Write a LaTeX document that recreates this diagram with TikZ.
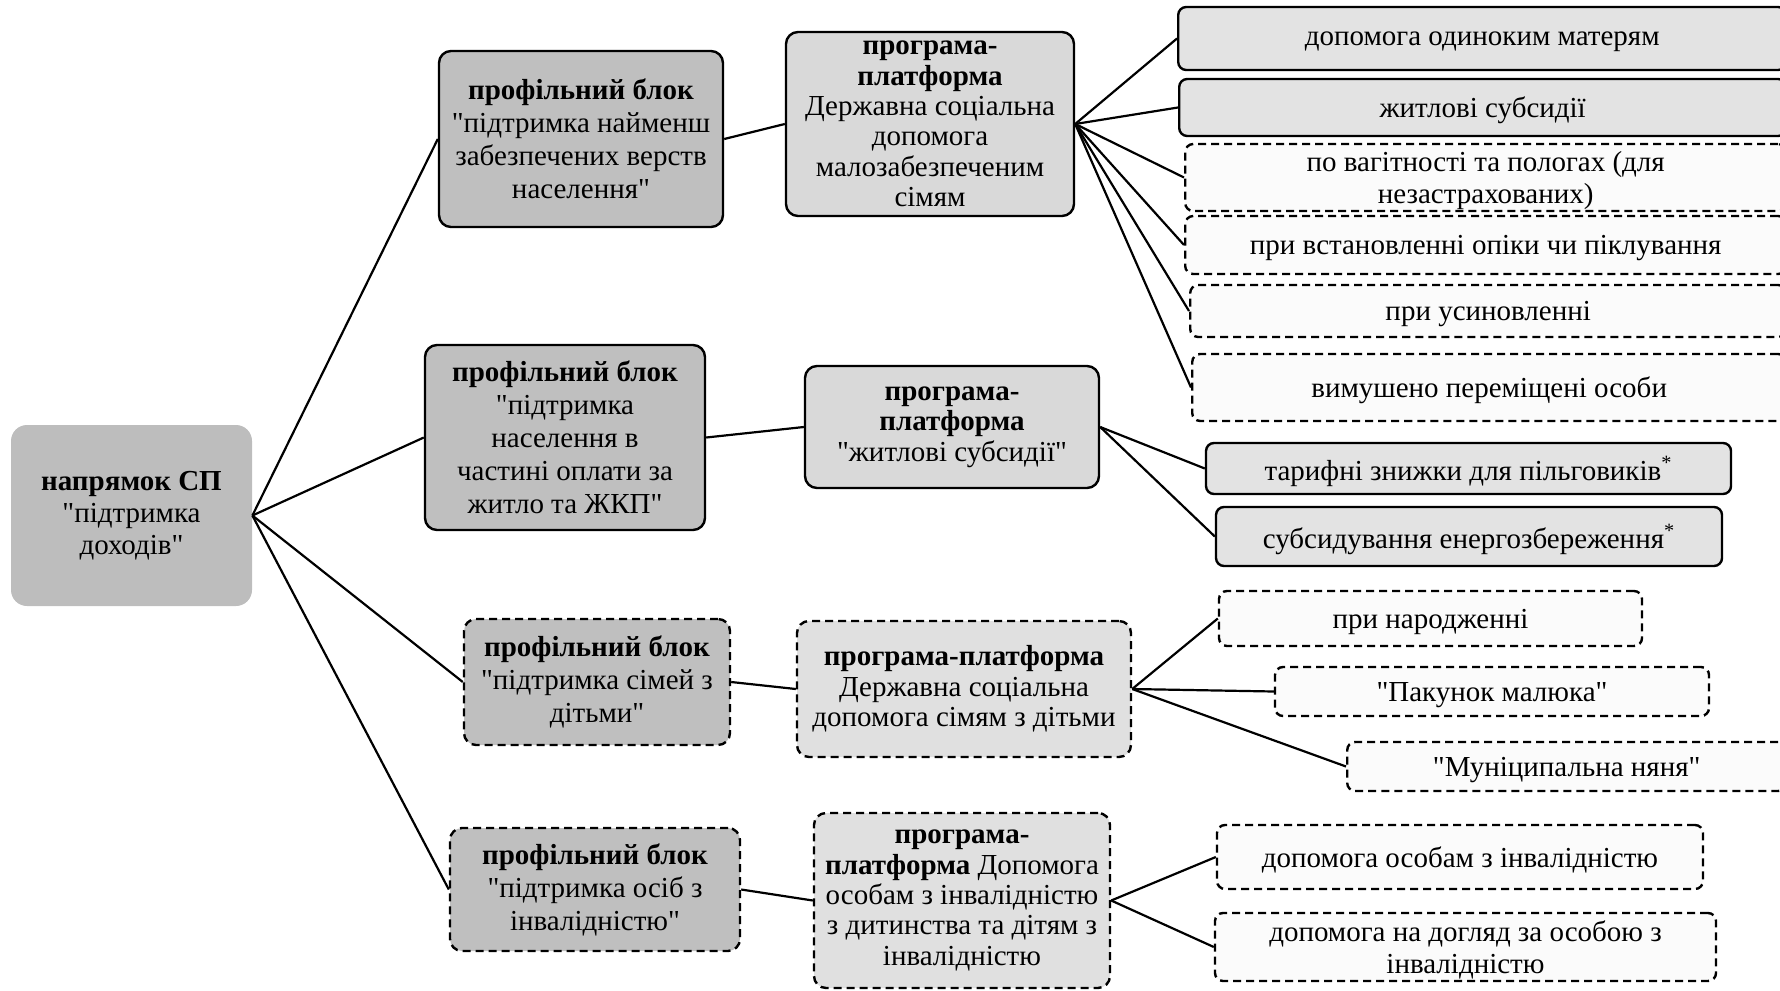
\documentclass[tikz,border=0pt]{standalone}
\usepackage{fontspec}
\setmainfont{Liberation Serif}
\newcommand{\qtd}[1]{\textquotedbl#1\textquotedbl}
\begin{document}
\begin{tikzpicture}[
  x=0.5pt, y=-0.5pt,
  font=\fontsize{14.5}{16}\selectfont,
  rootbox/.style={rectangle, rounded corners=8pt, align=center, fill=gray!52, inner sep=1pt},
  blockbox/.style={rectangle, rounded corners=6pt, align=center, draw=black, fill=gray!50, line width=1.2pt, inner sep=1pt, font=\fontsize{14.5}{16.5}\selectfont},
  progbox/.style={rectangle, rounded corners=6pt, align=center, draw=black, fill=gray!30, line width=1.2pt, inner sep=1pt, font=\fontsize{14.5}{15.2}\selectfont},
  leafbox/.style={rectangle, rounded corners=4pt, align=center, draw=black, fill=gray!22, line width=1.2pt, inner sep=1pt, text depth=0pt},
  optbox/.style={dash pattern=on 4pt off 2.5pt},
  softleaf/.style={leafbox, optbox, fill=gray!3},
  conn/.style={line width=1.1pt}
]
\clip (0,0) rectangle (1780,990);

\node (root) [rootbox, minimum width=120.5pt, minimum height=90.5pt] at (131.5, 515.5) {\textbf{напрямок СП}\\\qtd{підтримка\\доходів}};

\node (blk1) [blockbox, minimum width=142pt, minimum height=88pt] at (581, 139) {\textbf{профільний блок}\\\qtd{підтримка найменш\\забезпечених верств\\населення}};
\node (blk2) [blockbox, minimum width=140pt, minimum height=92.5pt] at (565, 437.5) {\textbf{профільний блок}\\\qtd{підтримка\\населення в\\частині оплати за\\житло та ЖКП}};
\node (blk3) [blockbox, optbox, minimum width=133pt, minimum height=63pt] at (597, 682) {\textbf{профільний блок}\\\qtd{підтримка сімей з\\дітьми}};
\node (blk4) [blockbox, optbox, minimum width=145pt, minimum height=61.5pt] at (595, 889.5) {\textbf{профільний блок}\\\qtd{підтримка осіб з\\інвалідністю}};

\node (prog1) [progbox, minimum width=144pt, minimum height=92pt] at (930, 124) {\textbf{програма-}\\\textbf{платформа}\\Державна соціальна\\допомога\\малозабезпеченим\\сімям};
\node (prog2) [progbox, minimum width=147pt, minimum height=61pt] at (952, 427) {\textbf{програма-}\\\textbf{платформа}\\\qtd{житлові субсидії}};
\node (prog3) [progbox, optbox, fill=gray!24, minimum width=167pt, minimum height=68pt] at (964, 689) {\textbf{програма-платформа}\\Державна соціальна\\допомога сімям з дітьми};
\node (prog4) [progbox, optbox, fill=gray!24, minimum width=148pt, minimum height=87.5pt] at (962, 900.5) {\textbf{програма-}\\\textbf{платформа} Допомога\\особам з інвалідністю\\з дитинства та дітям з\\інвалідністю};

\node (leaf1) [leafbox, anchor=west, minimum width=304pt, minimum height=31.5pt] at (1177, 38.5) {допомога одиноким матерям};
\node (leaf2) [leafbox, anchor=west, minimum width=303.5pt, minimum height=28.5pt] at (1178, 107.5) {житлові субсидії};
\node (leaf3) [softleaf, anchor=west, minimum width=300.5pt, minimum height=33.5pt] at (1184, 177.5) {по вагітності та пологах (для\\незастрахованих)};
\node (leaf4) [softleaf, anchor=west, minimum width=300.5pt, minimum height=29pt] at (1184, 245) {при встановленні опіки чи піклування};
\node (leaf5) [softleaf, anchor=west, minimum width=298pt, minimum height=26pt] at (1189, 311) {при усиновленні};
\node (leaf6) [softleaf, anchor=west, minimum width=297pt, minimum height=33.5pt] at (1191, 387.5) {вимушено переміщені особи};

\node (leaf7) [leafbox, minimum width=262.5pt, minimum height=25.5pt] at (1468.5, 468.5) {тарифні знижки для пільговиків\textsuperscript{*}};
\node (leaf8) [leafbox, minimum width=253pt, minimum height=29.5pt] at (1469, 536.5) {субсидування енергозбереження\textsuperscript{*}};

\node (leaf9) [softleaf, minimum width=211.5pt, minimum height=27.5pt] at (1430.5, 618.5) {при народженні};
\node (leaf10) [softleaf, minimum width=217pt, minimum height=24.5pt] at (1492, 691.5) {\qtd{Пакунок малюка}};
\node (leaf11) [softleaf, anchor=west, minimum width=219.5pt, minimum height=24.5pt] at (1346, 766.5) {\qtd{Муніципальна няня}};

\node (leaf12) [softleaf, minimum width=243pt, minimum height=32pt] at (1460, 857) {допомога особам з інвалідністю};
\node (leaf13) [softleaf, minimum width=250.5pt, minimum height=34pt] at (1465.5, 947) {допомога на догляд за особою з\\інвалідністю};

\draw [conn] (root.east) -- (blk1.west);
\draw [conn] (root.east) -- (blk2.west);
\draw [conn] (root.east) -- (blk3.west);
\draw [conn] (root.east) -- (blk4.west);

\draw [conn] (blk1.east) -- (prog1.west);
\draw [conn] (blk2.east) -- (prog2.west);
\draw [conn] (blk3.east) -- (prog3.west);
\draw [conn] (blk4.east) -- (prog4.west);

\draw [conn] (prog1.east) -- (leaf1.west);
\draw [conn] (prog1.east) -- (leaf2.west);
\draw [conn] (prog1.east) -- (leaf3.west);
\draw [conn] (prog1.east) -- (leaf4.west);
\draw [conn] (prog1.east) -- (leaf5.west);
\draw [conn] (prog1.east) -- (leaf6.west);
\draw [conn] (prog2.east) -- (leaf7.west);
\draw [conn] (prog2.east) -- (leaf8.west);
\draw [conn] (prog3.east) -- (leaf9.west);
\draw [conn] (prog3.east) -- (leaf10.west);
\draw [conn] (prog3.east) -- (leaf11.west);
\draw [conn] (prog4.east) -- (leaf12.west);
\draw [conn] (prog4.east) -- (leaf13.west);

\end{tikzpicture}
\end{document}
